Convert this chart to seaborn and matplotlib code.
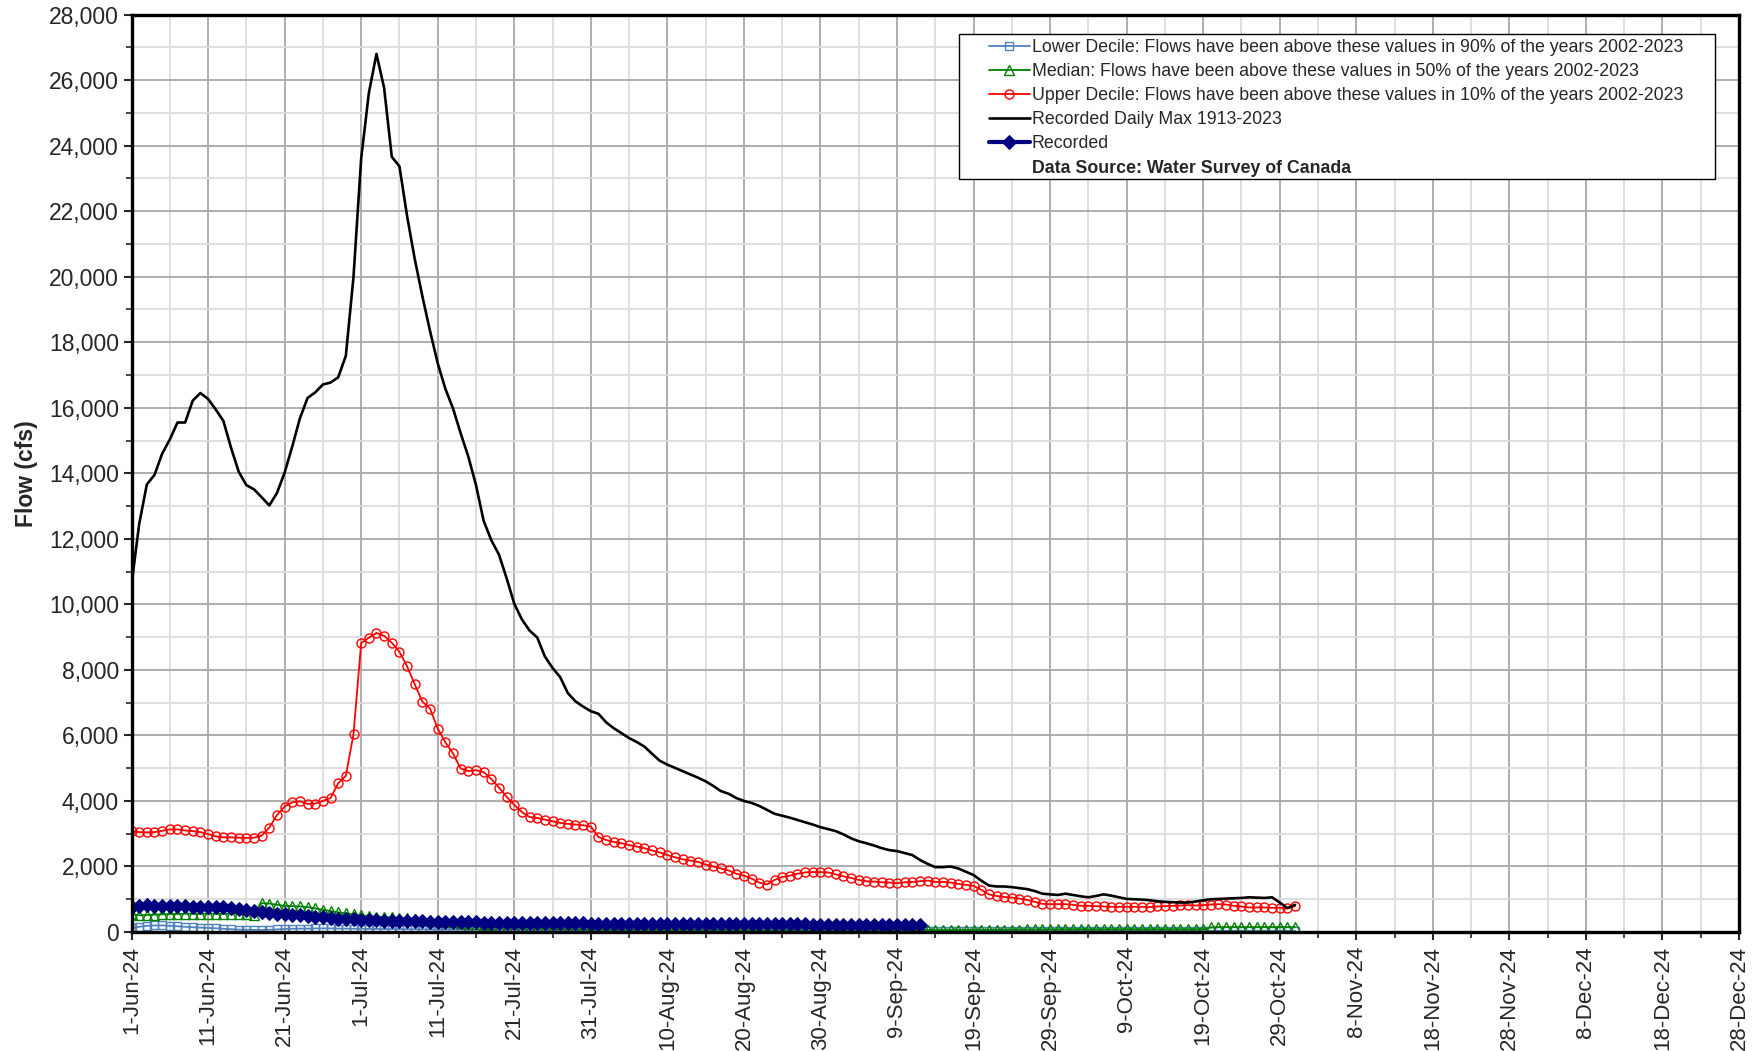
import numpy as np
import pandas as pd
import matplotlib
matplotlib.use("Agg")
import matplotlib.pyplot as plt
import matplotlib.dates as mdates
from matplotlib.ticker import MultipleLocator, FuncFormatter
from matplotlib.lines import Line2D
from matplotlib.patches import Rectangle
import seaborn as sns

# ---- data (cfs), daily from 1-Jun-2024 ----
start_date = "2024-06-01"

daily_max = [
    10600, 12450, 13660, 13950, 14600, 15030, 15550, 15550, 16220, 16450,
    16270, 15950, 15600, 14780, 14050, 13640, 13510, 13270, 13020, 13400,
    14020, 14820, 15680, 16300, 16470, 16710, 16770, 16930, 17590, 20000,
    23600, 25600, 26800, 25760, 23660, 23370, 21850, 20540, 19400, 18340,
    17360, 16580, 15980, 15220, 14510, 13640, 12550, 11960, 11520, 10800,
    10020, 9540, 9200, 8990, 8410, 8060, 7780, 7290, 7040, 6880,
    6740, 6660, 6400, 6220, 6070, 5920, 5800, 5660, 5440, 5230,
    5110, 5010, 4910, 4810, 4710, 4600, 4460, 4300, 4220, 4090,
    4000, 3940, 3850, 3730, 3610, 3550, 3490, 3420, 3350, 3280,
    3200, 3140, 3080, 2980, 2860, 2770, 2710, 2640, 2560, 2500,
    2470, 2410, 2350, 2200, 2080, 1980, 1980, 2000, 1940, 1840,
    1740, 1570, 1420, 1390, 1390, 1370, 1340, 1310, 1250, 1170,
    1150, 1130, 1170, 1130, 1090, 1060, 1100, 1150, 1110, 1060,
    1010, 1000, 990, 970, 940, 920, 910, 900, 900, 930,
    970, 1000, 1010, 1020, 1030, 1040, 1060, 1050, 1040, 1060,
    900, 730, 830,
]

upper_decile = [
    3080, 3050, 3040, 3050, 3090, 3130, 3130, 3100, 3080, 3050,
    2990, 2920, 2890, 2890, 2880, 2870, 2880, 2940, 3190, 3570,
    3830, 3960, 3990, 3910, 3920, 4000, 4090, 4540, 4770, 6040,
    8820, 8980, 9130, 9040, 8830, 8550, 8110, 7560, 7030, 6820,
    6210, 5790, 5450, 4990, 4910, 4940, 4880, 4670, 4410, 4130,
    3880, 3660, 3510, 3480, 3430, 3380, 3330, 3300, 3280, 3260,
    3220, 2900, 2810, 2750, 2710, 2650, 2610, 2560, 2490, 2430,
    2350, 2280, 2220, 2180, 2140, 2060, 2000, 1940, 1880, 1780,
    1720, 1630, 1510, 1450, 1590, 1680, 1720, 1780, 1820, 1830,
    1830, 1820, 1760, 1700, 1650, 1590, 1550, 1540, 1520, 1510,
    1490, 1520, 1530, 1550, 1570, 1530, 1530, 1510, 1470, 1440,
    1410, 1290, 1150, 1100, 1070, 1050, 1020, 980, 920, 860,
    850, 850, 850, 830, 800, 800, 790, 780, 770, 770,
    770, 770, 770, 760, 780, 790, 800, 810, 820, 810,
    820, 840, 850, 840, 800, 780, 750, 750, 750, 740,
    740, 720, 790,
]

median = [
    540, 510, 520, 530, 540, 550, 550, 560, 560, 560,
    560, 560, 560, 560, 550, 540, 530, 880, 870, 830,
    800, 790, 780, 760, 720, 680, 640, 600, 570, 540,
    510, 490, 470, 460, 450, 440, 420, 400, 380, 360,
    340, 320, 300, 280, 260, 240, 220, 200, 180, 160,
    150, 140, 130, 120, 110, 100, 95, 90, 85, 80,
    80, 75, 75, 70, 70, 70, 70, 70, 65, 65,
    65, 65, 65, 65, 60, 60, 60, 60, 60, 60,
    60, 60, 55, 55, 55, 55, 55, 55, 55, 55,
    55, 55, 55, 55, 55, 55, 55, 55, 55, 55,
    60, 60, 60, 60, 60, 60, 60, 60, 65, 65,
    65, 65, 70, 70, 70, 75, 75, 80, 80, 80,
    80, 80, 85, 85, 85, 85, 85, 85, 85, 85,
    85, 85, 85, 85, 85, 85, 85, 85, 85, 85,
    85, 140, 150, 150, 150, 150, 150, 150, 150, 150,
    150, 150, 150,
]

lower_decile = [
    120, 160, 190, 200, 200, 190, 175, 160, 145, 135,
    125, 115, 100, 85, 75, 70, 65, 65, 70, 80,
    95, 100, 105, 105, 110, 110, 110, 105, 105, 100,
    100, 95, 95, 90, 90, 90, 85, 85, 80, 80,
    80, 75, 75, 75, 70, 70, 70, 70, 65, 65,
    65, 65, 60, 60, 60, 60, 60, 55, 55, 55,
    55, 55, 55, 50, 50, 50, 50, 50, 50, 50,
    50, 50, 45, 45, 45, 45, 45, 45, 45, 45,
    45, 45, 45, 45, 45, 40, 40, 40, 40, 40,
    40, 40, 40, 40, 40, 40, 40, 40, 40, 40,
    40, 40, 40, 40, 40, 40, 40, 40, 40, 40,
    40, 40, 40, 40, 40, 40, 40, 40, 40, 40,
    40, 40, 40, 40, 40, 40, 40, 40, 40, 40,
    40, 40, 40, 40, 40, 40, 40, 40, 40, 40,
    40, 40, 40, 40, 40, 40, 40, 40, 40, 40,
    40, 40, 40,
]

recorded = [
    760, 800, 810, 800, 790, 790, 780, 780, 770, 770,
    760, 760, 750, 730, 710, 680, 630, 600, 580, 560,
    550, 530, 510, 490, 470, 450, 430, 410, 400, 390,
    380, 370, 360, 350, 345, 340, 335, 330, 325, 320,
    315, 310, 305, 300, 300, 295, 290, 290, 285, 280,
    280, 278, 276, 274, 272, 270, 268, 266, 264, 262,
    260, 258, 256, 255, 254, 252, 250, 249, 248, 247,
    246, 245, 244, 243, 242, 241, 240, 240, 239, 238,
    237, 236, 235, 234, 233, 232, 231, 230, 230, 229,
    228, 228, 227, 226, 225, 225, 224, 223, 222, 222,
    221, 220, 220, 220,
]

labels = [
    "Lower Decile: Flows have been above these values in 90% of the years 2002-2023",
    "Median: Flows have been above these values in 50% of the years 2002-2023",
    "Upper Decile: Flows have been above these values in 10% of the years 2002-2023",
    "Recorded Daily Max 1913-2023",
    "Recorded",
]
source_label = "Data Source: Water Survey of Canada"

dates = pd.date_range(start_date, periods=len(daily_max), freq="D")
rec_dates = dates[:len(recorded)]

sns.set_theme(style="white")
plt.rcParams["font.family"] = ["Liberation Sans", "DejaVu Sans"]

fig = plt.figure(figsize=(17.63, 10.51), dpi=100)
ax = fig.add_axes([0.0746, 0.1132, 0.9864 - 0.0746, 0.9861 - 0.1132])

sns.lineplot(x=dates, y=lower_decile, ax=ax, color="#4F81BD", lw=1.3,
             marker="s", markersize=6, markerfacecolor="none",
             markeredgecolor="#4F81BD", markeredgewidth=1.0, label=labels[0])
sns.lineplot(x=dates, y=median, ax=ax, color="#008000", lw=1.3,
             marker="^", markersize=6.5, markerfacecolor="none",
             markeredgecolor="#008000", markeredgewidth=1.0, label=labels[1])
sns.lineplot(x=dates, y=upper_decile, ax=ax, color="#FF0000", lw=1.3,
             marker="o", markersize=6.5, markerfacecolor="none",
             markeredgecolor="#FF0000", markeredgewidth=1.0, label=labels[2])
sns.lineplot(x=dates, y=daily_max, ax=ax, color="black", lw=1.9,
             label=labels[3])
sns.lineplot(x=rec_dates, y=recorded, ax=ax, color="#000080", lw=3,
             marker="D", markersize=7, markerfacecolor="#000080",
             markeredgecolor="#000080", label=labels[4])

# axes limits and ticks
ax.set_xlim(pd.Timestamp("2024-06-01"), pd.Timestamp("2024-12-28"))
ax.set_ylim(0, 28000)
major_days = pd.date_range("2024-06-01", "2024-12-28", freq="10D")
minor_days = pd.date_range("2024-06-01", "2024-12-28", freq="5D")
ax.set_xticks(major_days)
ax.set_xticks(minor_days, minor=True)
ax.xaxis.set_major_formatter(mdates.DateFormatter("%-d-%b-%y"))
ax.yaxis.set_major_locator(MultipleLocator(2000))
ax.yaxis.set_minor_locator(MultipleLocator(1000))
ax.yaxis.set_major_formatter(FuncFormatter(lambda v, p: f"{v:,.0f}"))

ax.tick_params(axis="x", which="major", labelrotation=90, labelsize=16,
               direction="out", length=6, width=1.5, bottom=True, pad=4)
ax.tick_params(axis="x", which="minor", direction="out", length=4, width=1.2, bottom=True)
ax.tick_params(axis="y", which="major", labelsize=16.5, direction="out",
               length=6, width=1.5, left=True, pad=3)
ax.tick_params(axis="y", which="minor", direction="out", length=4, width=1.2, left=True)

ax.grid(which="major", color="#a8a8a8", lw=1.3)
ax.grid(which="minor", color="#dcdcdc", lw=1.3)
ax.set_axisbelow(True)

for sp in ax.spines.values():
    sp.set_visible(True)
    sp.set_color("black")
    sp.set_linewidth(2.4)

ax.set_xlabel("")
ax.set_ylabel("Flow (cfs)", fontsize=16.5, fontweight="bold", labelpad=8)

# drop seaborn's automatic legend, build the boxed one by hand
handles, _ = ax.get_legend_handles_labels()
if ax.get_legend() is not None:
    ax.get_legend().remove()

box = Rectangle((959 / 1763, 1 - 179 / 1051), (1715 - 959) / 1763, (179 - 34) / 1051,
                transform=fig.transFigure, facecolor="white", edgecolor="black",
                lw=1.0, zorder=4)
fig.add_artist(box)

blank = Line2D([], [], color="none")
leg = fig.legend(handles + [blank], labels + [source_label],
                 loc="upper left", bbox_to_anchor=(989 / 1763, 1 - 39 / 1051),
                 fontsize=12.8, frameon=False, handlelength=2.3,
                 handletextpad=0.1, borderpad=0, labelspacing=0.4,
                 borderaxespad=0)
leg.set_zorder(5)
leg.get_texts()[-1].set_fontweight("bold")

fig.savefig("out.png", dpi=100)
